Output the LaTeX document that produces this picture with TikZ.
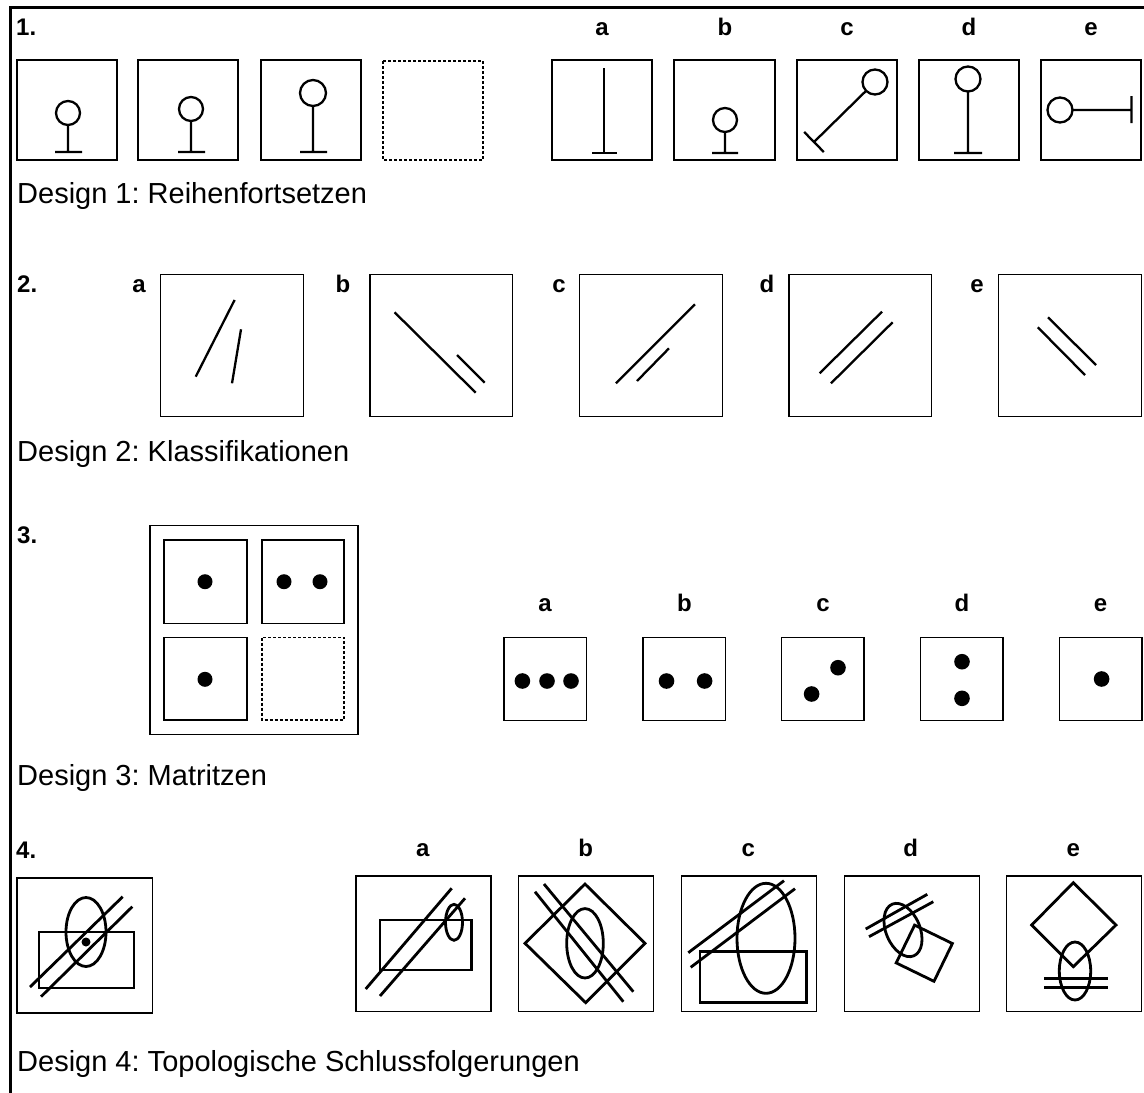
\documentclass[tikz,border=0pt]{standalone}
\usepackage{fontspec}
\setmainfont{Liberation Sans}
\frenchspacing
\begin{document}
\begin{tikzpicture}[x=1pt,y=-1pt,
  frame/.style={line width=1.4pt},
  dframe/.style={line width=1.2pt, dash pattern=on 3pt off 2pt},
  fig/.style={line width=2.3pt},
  figf/.style={line width=2.8pt},
  num/.style={font=\fontsize{24}{28}\selectfont\bfseries, inner sep=0pt, anchor=base west},
  lab/.style={font=\fontsize{24}{28}\selectfont\bfseries, inner sep=0pt, anchor=base},
  capt/.style={font=\fontsize{29}{34}\selectfont, inner sep=0pt, anchor=base west}]
\useasboundingbox (0,0) rectangle (1144,1093);
\fill[white] (0,0) rectangle (1144,1093);
\draw[line width=3pt] (10,1093) -- (10,7) -- (1144,7);

% ---------------- Row 1
\node[num] (n1) at (16,35) {1.};
\draw[frame] (17,60) rectangle (117,160);
\draw[frame] (138,60) rectangle (238,160);
\draw[frame] (261,60) rectangle (361,160);
\draw[dframe] (383,61) rectangle (483,160);
\draw[fig] (68,113) circle[radius=12pt] (68,125) -- (68,152) (55,152) -- (82,152);
\draw[fig] (191,109) circle[radius=12pt] (191,121) -- (191,152) (178,152) -- (205,152);
\draw[fig] (313,93) circle[radius=13pt] (313,106) -- (313,152) (300,152) -- (327,152);

\foreach \x/\l in {602/a,725/b,847/c,969/d,1091/e}{\node[lab] (l1\l) at (\x,35) {\l};}
\draw[frame] (552,60) rectangle (652,160);
\draw[frame] (674,60) rectangle (775,160);
\draw[frame] (797,60) rectangle (897,160);
\draw[frame] (919,60) rectangle (1019,160);
\draw[frame] (1041,60) rectangle (1141,160);
\draw[fig] (604,68) -- (604,153) (592,153) -- (617,153);
\draw[fig] (725,120) circle[radius=12pt] (725,132) -- (725,153) (712,153) -- (738,153);
\draw[fig] (875,82) circle[radius=12.5pt] (866.1,90.8) -- (814,142) (804.2,132) -- (823.8,152);
\draw[fig] (968,79) circle[radius=12.5pt] (968,91.5) -- (968,153) (954,153) -- (982,153);
\draw[fig] (1060,110) circle[radius=12.5pt] (1072.5,110) -- (1131.5,110) (1131.5,96) -- (1131.5,123);
\node[capt] (c1) at (17,203.3) {Design 1: Reihenfortsetzen};

% ---------------- Row 2
\node[num] (n2) at (17,292) {2.};
\foreach \x/\l in {139/a,343/b,559/c,767/d,977/e}{\node[lab] (l2\l) at (\x,292) {\l};}
\foreach \x in {160.7,370,579.7,789,998.7}{\draw[frame] (\x,274.3) rectangle ++(142.5,142.4);}
\draw[fig] (195.7,376.7) -- (234.6,300) (232,383.3) -- (241,329.3);
\draw[fig] (394.6,312.3) -- (475.7,392.7) (457,355) -- (484.6,382.7);
\draw[fig] (616,383.3) -- (695,304.3) (637,381) -- (669,348.3);
\draw[fig] (819.6,373.3) -- (882,311.7) (831,383.3) -- (892.6,322.3);
\draw[fig] (1037.8,327.3) -- (1085,375) (1048,317.3) -- (1096,365);
\node[capt] (c2) at (17,461.7) {Design 2: Klassifikationen};

% ---------------- Row 3
\node[num] (n3) at (17,543) {3.};
\draw[frame] (150,525.7) rectangle (358,734.3);
\draw[frame] (164,540) rectangle (247,623.3);
\draw[frame] (262,540) rectangle (344,623.3);
\draw[frame] (164,637.7) rectangle (247,720);
\draw[dframe] (262,637.7) rectangle (344,720);
\foreach \p in {(205,581.7),(284,581.7),(320,581.7),(205,679.3)}{\fill \p circle[radius=7.5pt];}
\foreach \x/\l in {545/a,684.5/b,823/c,962/d,1100.5/e}{\node[lab] (l3\l) at (\x,611) {\l};}
\foreach \x in {504,643,781.6,920.5,1059.4}{\draw[frame] (\x,637.7) rectangle ++(82.5,83);}
\foreach \p in {(522.4,681),(547,681),(571,681),(666.5,681),(704.6,681),(838,667.7),(811.6,694),(962,661.7),(962,698.3),(1101.6,679)}{\fill \p circle[radius=7.8pt];}
\node[capt] (c3) at (17,785) {Design 3: Matritzen};

% ---------------- Row 4
\node[num] (n4) at (16,858) {4.};
\foreach \x/\l in {422.7/a,585.7/b,748.3/c,910.7/d,1073.3/e}{\node[lab] (l4\l) at (\x,856) {\l};}
\draw[frame] (17,878) rectangle (152.7,1013);
\foreach \x in {356,518.3,681.7,844.3,1006.7}{\draw[frame] (\x,876) rectangle ++(135,135.5);}
% main
\draw[figf] (39,932) rectangle (134,988);
\draw[figf] (86,932) ellipse[x radius=20pt, y radius=34.5pt];
\fill (86,942) circle[radius=4.5pt];
\draw[figf] (30,987) -- (122.7,896.7) (41,996.7) -- (132.3,906.7);
% a
\draw[figf] (380,920) rectangle (471.7,970);
\draw[figf] (365.7,989) -- (451.7,888.3) (380,996) -- (465,898.3);
\draw[figf] (454,922.3) ellipse[x radius=8.5pt, y radius=18pt];
% b
\draw[figf] (585,884) -- (645,943.3) -- (585.7,1002.7) -- (525,943.3) -- cycle;
\draw[figf] (585,943.3) ellipse[x radius=18.3pt, y radius=34.7pt];
\draw[figf] (535,891.7) -- (623.3,1001.7) (544,884) -- (633.3,991.7);
% c
\draw[figf] (700,951.7) rectangle (806.7,1002.7);
\draw[figf] (766,938.3) ellipse[x radius=29pt, y radius=55pt];
\draw[figf] (688.3,952.7) -- (784,880.7) (690.7,967.3) -- (795,888.7);
% d
\draw[figf] (903,930) circle[x radius=17pt, y radius=28pt, rotate=22.6];
\draw[figf] (914.6,925.1) -- (952.4,943.5) -- (934,981.3) -- (896.2,962.9) -- cycle;
\draw[figf] (865.7,929) -- (927.3,894.3) (869,936.7) -- (933.3,901.7);
% e
\draw[figf] (1073.3,882.7) -- (1116,925) -- (1073.3,966.7) -- (1031.7,925) -- cycle;
\draw[figf] (1075,971) ellipse[x radius=15.7pt, y radius=29pt];
\draw[figf] (1044,978.3) -- (1108.3,978.3) (1044,987.7) -- (1108.3,987.7);
\node[capt] (c4) at (17,1071.7) {Design 4: Topologische Schlussfolgerungen};
\end{tikzpicture}
\end{document}
